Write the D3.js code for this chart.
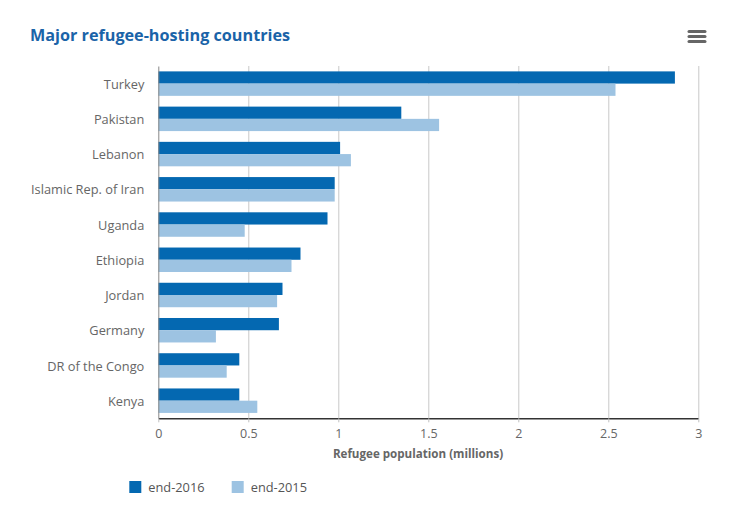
<!DOCTYPE html>
<html>
<head>
<meta charset="utf-8">
<script src="https://cdn.jsdelivr.net/npm/d3@7"></script>
<style>
  body { margin: 0; background: #fff; }
  svg { font-family: "Open Sans", Lato, sans-serif; }
  .x-axis .domain { stroke: #333; stroke-width: 1.5; }
  .x-axis .tick line { stroke: #c0c0c0; }
  .x-axis .tick text { fill: #666; font-size: 12.5px; }
  .grid .tick line { stroke: #c8c8c8; }
  .grid .domain { display: none; }
</style>
</head>
<body>
<svg></svg>
<script>
// Major refugee-hosting countries, horizontal grouped bars
const SVG_WIDTH = 743;
const SVG_HEIGHT = 508;
const PLOT = { left: 158.3, right: 698.3, top: 66, bottom: 418.3 };
const FONT = '"Open Sans", Lato, sans-serif';

// Data (millions)
const countries = ['Turkey', 'Pakistan', 'Lebanon', 'Islamic Rep. of Iran', 'Uganda',
                   'Ethiopia', 'Jordan', 'Germany', 'DR of the Congo', 'Kenya'];
const end2016 = [2.87, 1.35, 1.01, 0.98, 0.94, 0.79, 0.69, 0.67, 0.45, 0.45];
const end2015 = [2.54, 1.56, 1.07, 0.98, 0.48, 0.74, 0.66, 0.32, 0.38, 0.55];
const seriesNames = ['end-2016', 'end-2015'];
const seriesColors = ['#0468b1', '#9dc3e2'];
const xTicks = [0, 0.5, 1, 1.5, 2, 2.5, 3];

const rows = countries.map((c, i) => ({ country: c, values: [end2016[i], end2015[i]] }));

const SVG = d3.select('svg').attr('width', SVG_WIDTH).attr('height', SVG_HEIGHT);

//Scales
var xScale = d3.scaleLinear().domain([0, 3]).range([PLOT.left, PLOT.right]);
var yScale = d3.scaleBand().domain(countries).range([PLOT.top, PLOT.bottom]);
var innerScale = d3.scaleBand().domain(seriesNames).range([0, yScale.bandwidth()]).paddingOuter(0.44);

//Title
SVG.append('text').attr('x', 30).attr('y', 40.5)
   .style('font-size', '16.2px').style('font-weight', 'bold').style('fill', '#1a63a8')
   .text('Major refugee-hosting countries');

//Menu icon
[31.5, 36.5, 41.5].forEach(y => {
  SVG.append('line').attr('x1', 689).attr('x2', 705).attr('y1', y).attr('y2', y)
     .attr('stroke', '#666').attr('stroke-width', 3).attr('stroke-linecap', 'round');
});

//Grid
SVG.append('g').attr('class', 'grid')
   .attr('transform', `translate(0, ${PLOT.bottom})`)
   .call(d3.axisBottom(xScale).tickValues(xTicks.slice(1)).tickSize(-(PLOT.bottom - PLOT.top)).tickFormat(''));

//Bars
var groups = SVG.selectAll('g.row').data(rows).enter().append('g')
   .attr('class', 'row')
   .attr('transform', d => `translate(0, ${yScale(d.country)})`);

groups.selectAll('rect')
   .data(d => d.values.map((v, i) => ({ name: seriesNames[i], value: v, color: seriesColors[i] })))
   .enter().append('rect')
      .attr('x', xScale(0))
      .attr('y', d => innerScale(d.name))
      .attr('height', innerScale.bandwidth())
      .attr('width', d => xScale(d.value) - xScale(0))
      .attr('fill', d => d.color);

//Left axis
SVG.append('g').attr('transform', `translate(${PLOT.left}, 0)`)
   .call(d3.axisLeft(yScale).tickSize(0).tickPadding(14))
   .call(g => g.select('.domain').attr('stroke', '#888'))
   .call(g => g.selectAll('text').style('fill', '#666').style('font-size', '12.8px')
               .attr('dy', '0.4em').style('font-family', FONT));

//Bottom axis
SVG.append('g').attr('class', 'x-axis')
   .attr('transform', `translate(0, ${PLOT.bottom})`)
   .call(d3.axisBottom(xScale).tickValues(xTicks).tickSize(4).tickPadding(7).tickSizeOuter(0).tickFormat(d3.format('')))
   .call(g => g.selectAll('text').style('font-family', FONT));

SVG.append('text').attr('x', 418).attr('y', 458)
   .style('text-anchor', 'middle').style('font-size', '11.6px').style('font-weight', 'bold').style('fill', '#666')
   .text('Refugee population (millions)');

//Legend
var legendX = [129.3, 231.7];
var legend = SVG.selectAll('g.legend').data(seriesNames).enter().append('g')
   .attr('class', 'legend')
   .attr('transform', (d, i) => `translate(${legendX[i]}, 481)`);
legend.append('rect').attr('width', 12).attr('height', 12).attr('fill', (d, i) => seriesColors[i]);
legend.append('text').attr('x', 19).attr('y', 11)
   .style('font-size', '12.8px').style('fill', '#555').text(d => d);
</script>
</body>
</html>
